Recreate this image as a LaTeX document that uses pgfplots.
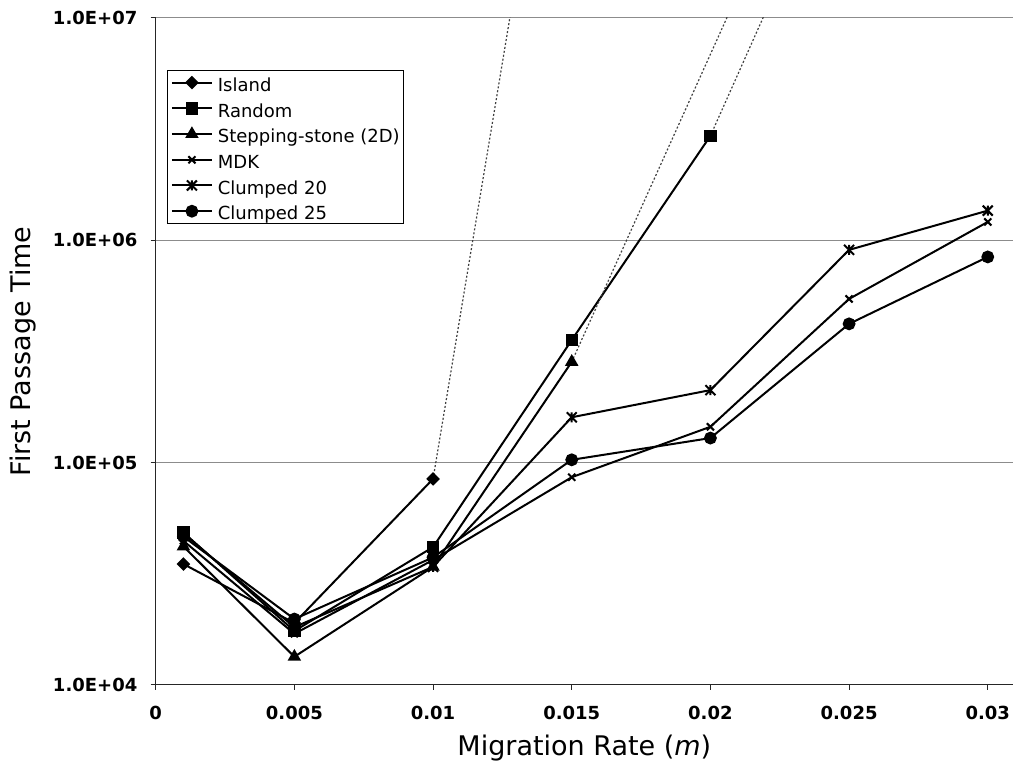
\documentclass[border=0pt]{standalone}
\usepackage{fontspec}
\setmainfont{DejaVu Sans}
\usepackage{pgfplots}
\pgfplotsset{compat=1.18}
\pgfdeclareplotmark{starx}{%
  \pgfpathmoveto{\pgfqpoint{-\pgfplotmarksize}{-\pgfplotmarksize}}%
  \pgfpathlineto{\pgfqpoint{\pgfplotmarksize}{\pgfplotmarksize}}%
  \pgfpathmoveto{\pgfqpoint{-\pgfplotmarksize}{\pgfplotmarksize}}%
  \pgfpathlineto{\pgfqpoint{\pgfplotmarksize}{-\pgfplotmarksize}}%
  \pgfpathmoveto{\pgfqpoint{0pt}{-\pgfplotmarksize}}%
  \pgfpathlineto{\pgfqpoint{0pt}{\pgfplotmarksize}}%
  \pgfusepathqstroke}
\begin{document}
\begin{tikzpicture}
\path[use as bounding box] (-77.85pt,-41pt) rectangle (428.65pt,342.5pt);
\begin{axis}[
  at={(0,0)}, anchor=south west,
  scale only axis, width=428.65pt, height=333.5pt,
  xmin=0, xmax=0.03091,
  ymode=log, ymin=1e4, ymax=1e7,
  axis lines=left, axis line style={-, draw=black!85, line width=0.5pt},
  scaled x ticks=false,
  xtick={0,0.005,0.01,0.015,0.02,0.025,0.03},
  xticklabels={0,0.005,0.01,0.015,0.02,0.025,0.03},
  ytick={1e4,1e5,1e6,1e7},
  yticklabels={1.0E+04,1.0E+05,1.0E+06,1.0E+07},
  yminorticks=false,
  ymajorgrids, major grid style={black!45, line width=0.5pt},
  tick align=outside, major tick length=2.5pt,
  tick style={black!85, line width=0.5pt},
  ticklabel style={font=\fontsize{9}{10}\selectfont\bfseries},
  yticklabel style={anchor=east, inner sep=0pt, xshift=-6.5pt},
  xticklabel style={anchor=north, inner sep=0pt, yshift=-8pt},
  xlabel={Migration Rate (\textit{m})},
  xlabel style={font=\fontsize{13.5}{15}\selectfont, at={(axis description cs:0.5,-0.1064)}, anchor=base},
  ylabel={First Passage Time},
  ylabel style={font=\fontsize{13.5}{15}\selectfont, at={(axis description cs:-0.1455,0.5)}, anchor=base},
  legend style={at={(0.0132,0.922)}, anchor=north west, draw=black, line width=0.5pt,
    font=\fontsize{9}{11}\selectfont, inner sep=1.7pt, row sep=4.16pt, column sep=2.5pt,
    nodes={inner sep=0pt, text height=8.7pt, text depth=0pt}},
  legend cell align=left,
  legend image code/.code={\draw[mark repeat=2,mark phase=2,#1] plot coordinates {(0pt,0pt) (10pt,0pt) (20pt,0pt)};},
  every axis plot/.append style={line width=1pt, black},
]
\addplot[mark=square*, mark size=1.9pt, mark options={rotate=45}] coordinates {(0.001,35000) (0.005,19000) (0.01,84500)};
\addlegendentry{Island}
\addplot[mark=square*, mark size=2.6pt] coordinates {(0.001,48500) (0.005,17500) (0.01,41700) (0.015,356000) (0.02,2950000)};
\addlegendentry{Random}
\addplot[mark=triangle*, mark size=2.9pt] coordinates {(0.001,42000) (0.005,13400) (0.01,34000) (0.015,284000)};
\addlegendentry{Stepping-stone (2D)}
\addplot[mark=x, mark size=2.5pt] coordinates {(0.001,44500) (0.005,17000) (0.01,36500) (0.015,86000) (0.02,145000) (0.025,545000) (0.03,1210000)};
\addlegendentry{MDK}
\addplot[mark=starx, mark size=2.5pt] coordinates {(0.001,48000) (0.005,18200) (0.01,34000) (0.015,160000) (0.02,212000) (0.025,906000) (0.03,1360000)};
\addlegendentry{Clumped 20}
\addplot[mark=*, mark size=2.7pt] coordinates {(0.001,46500) (0.005,19800) (0.01,37500) (0.015,103000) (0.02,129000) (0.025,421000) (0.03,842000)};
\addlegendentry{Clumped 25}
\addplot[forget plot, densely dotted, line width=0.6pt, black!75] coordinates {(0.01,84500) (0.015,4.7e8)};
\addplot[forget plot, densely dotted, line width=0.6pt, black!75] coordinates {(0.02,2950000) (0.025,7.4e7)};
\addplot[forget plot, densely dotted, line width=0.6pt, black!75] coordinates {(0.015,284000) (0.025,1.66e8)};
\end{axis}
\end{tikzpicture}
\end{document}
